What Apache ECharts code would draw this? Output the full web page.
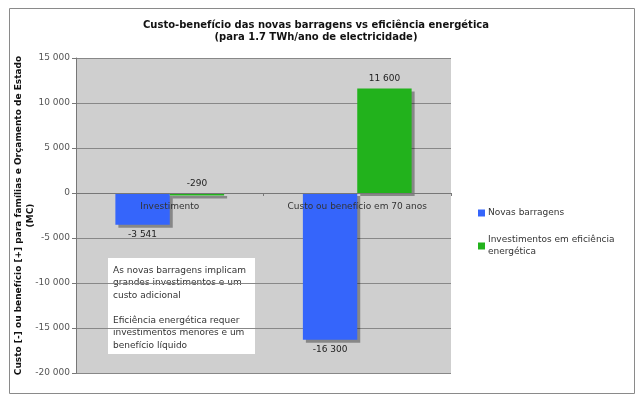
<!DOCTYPE html>
<html><head><meta charset="utf-8">
<script src="https://cdn.jsdelivr.net/npm/echarts@6/dist/echarts.min.js"></script>
<style>html,body{margin:0;padding:0;background:#fff}#c{width:640px;height:399px}</style>
</head><body><div id="c"></div>
<script>
const categories = ['Investimento', 'Custo ou benefício em 70 anos'];
const seriesNames = ['Novas barragens', 'Investimentos em eficiência energética'];
const novasBarragens = [-3541, -16300];
const eficiencia = [-290, 11600];
const yTicks = [-20000, -15000, -10000, -5000, 0, 5000, 10000, 15000];
const titleLines = ['Custo-benefício das novas barragens vs eficiência energética', '(para 1.7 TWh/ano de electricidade)'];
const yAxisTitle = 'Custo [-] ou benefício [+] para famílias e Orçamento de Estado\n(MC)';
const noteText = 'As novas barragens implicam\ngrandes investimentos e um\ncusto adicional\n\nEficiência energética requer\ninvestimentos menores e um\nbenefício líquido';

const fmt = v => {
  const s = Math.abs(v).toString().replace(/\B(?=(\d{3})+(?!\d))/g, ' ');
  return (v < 0 ? '-' : '') + s;
};
const FONT = 'DejaVu Sans';
const shadow = {shadowColor: 'rgba(0,0,0,0.35)', shadowOffsetX: 3, shadowOffsetY: 3, shadowBlur: 0};
const lbl = pos => ({show: true, position: pos, distance: 5, color: '#222', fontFamily: FONT, fontSize: 9, formatter: p => fmt(p.value)});

const chart = echarts.init(document.getElementById('c'), null, {renderer: 'canvas'});
chart.setOption({
  animation: false,
  backgroundColor: '#fff',
  title: {
    text: titleLines.join('\n'), left: 311, textAlign: 'center', top: 14,
    textStyle: {fontFamily: FONT, fontSize: 10, fontWeight: 'bold', color: '#111', lineHeight: 12}
  },
  grid: {left: 76, top: 58, width: 375, height: 315, show: true, backgroundColor: '#cfcfcf', borderWidth: 0,
         containLabel: false, outerBoundsMode: 'none'},
  legend: {
    orient: 'vertical', left: 478, top: 207, padding: 0, itemWidth: 7, itemHeight: 7, itemGap: 15,
    icon: 'rect',
    textStyle: {fontFamily: FONT, fontSize: 9, color: '#333', lineHeight: 12, padding: [0, 0, 0, -2]},
    formatter: n => n === seriesNames[1] ? 'Investimentos em eficiência\nenergética' : n,
    data: seriesNames
  },
  xAxis: {
    type: 'category', data: categories, offset: -180, z: 10,
    axisLine: {onZero: false, lineStyle: {color: '#777', width: 1}},
    axisTick: {show: true, length: 3, lineStyle: {color: '#777'}},
    axisLabel: {color: '#333', fontFamily: FONT, fontSize: 9, margin: 9}
  },
  yAxis: {
    type: 'value', min: yTicks[0], max: yTicks[yTicks.length - 1], interval: 5000,
    name: yAxisTitle, nameLocation: 'middle', nameRotate: 90, nameGap: 39, nameMoveOverlap: false,
    nameTextStyle: {fontFamily: FONT, fontSize: 9, fontWeight: 'bold', color: '#111', lineHeight: 12},
    axisLine: {show: true, lineStyle: {color: '#777'}},
    axisTick: {show: true, length: 4, lineStyle: {color: '#777'}},
    axisLabel: {color: '#555', fontFamily: FONT, fontSize: 9, margin: 6, formatter: v => fmt(v)},
    splitLine: {show: true, lineStyle: {color: '#888', width: 1}}
  },
  series: [
    {
      name: seriesNames[0], type: 'bar', barWidth: '29%', barGap: '0%',
      itemStyle: Object.assign({color: '#3565fb'}, shadow),
      label: lbl('bottom'),
      data: novasBarragens
    },
    {
      name: seriesNames[1], type: 'bar', barWidth: '29%', barGap: '0%',
      itemStyle: Object.assign({color: '#22b21c'}, shadow),
      label: lbl('top'),
      data: eficiencia
    }
  ],
  graphic: [
    {type: 'rect', left: 7, top: 6, shape: {width: 625, height: 385}, style: {fill: 'none', stroke: '#8a8a8a', lineWidth: 1}, silent: true},
    {type: 'rect', left: 108, top: 258, shape: {width: 147, height: 96}, style: {fill: '#fff'}},
    {type: 'text', left: 113, top: 264, style: {text: noteText, fontFamily: FONT, fontSize: 9, lineHeight: 12.5, fill: '#333'}}
  ]
});
</script></body></html>
